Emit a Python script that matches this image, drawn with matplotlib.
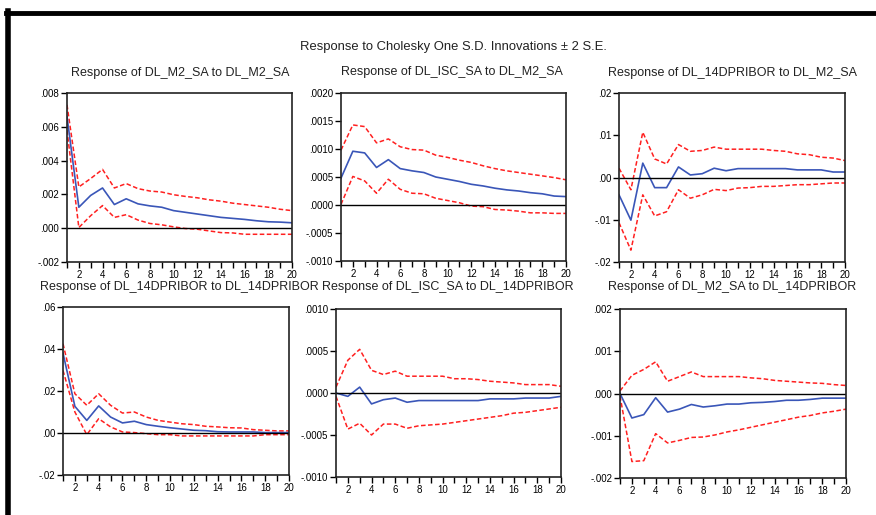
import matplotlib
matplotlib.use("Agg")
import matplotlib.pyplot as plt
from matplotlib.lines import Line2D
from matplotlib.ticker import FixedLocator, FuncFormatter

plt.rcParams['font.family'] = ['Liberation Sans', 'DejaVu Sans']

periods = list(range(1, 21))

# Panel 1: Response of DL_M2_SA to DL_M2_SA
m2_m2 = [0.0066, 0.00124, 0.00194, 0.00238, 0.0014, 0.00174, 0.00144, 0.00132, 0.00124, 0.00104,
         0.00094, 0.00084, 0.00074, 0.00064, 0.00058, 0.00052, 0.00044, 0.00038, 0.00036, 0.00032]
m2_m2_up = [0.0073, 0.00244, 0.00294, 0.00348, 0.00238, 0.00264, 0.00234, 0.0022, 0.00214, 0.00198,
            0.00188, 0.0018, 0.00168, 0.0016, 0.00148, 0.0014, 0.00132, 0.00124, 0.00112, 0.00104]
m2_m2_lo = [0.0058, 0.00004, 0.00074, 0.00134, 0.00064, 0.0008, 0.00048, 0.00028, 0.0002, 0.00008,
            -0.00002, -0.00006, -0.00016, -0.00026, -0.00028, -0.00036, -0.00036, -0.00036, -0.00036, -0.00036]

# Panel 2: Response of DL_ISC_SA to DL_M2_SA
isc_m2 = [0.00048, 0.00096, 0.00093, 0.00067, 0.00081, 0.00065, 0.00061, 0.00058, 0.0005, 0.00046,
          0.00042, 0.00037, 0.00034, 0.0003, 0.00027, 0.00025, 0.00022, 0.0002, 0.00016, 0.00015]
isc_m2_up = [0.00098, 0.00143, 0.0014, 0.00111, 0.00118, 0.00104, 0.00099, 0.00098, 0.00089, 0.00085,
             0.0008, 0.00076, 0.0007, 0.00065, 0.00061, 0.00058, 0.00055, 0.00052, 0.00049, 0.00045]
isc_m2_lo = [0.00001, 0.00051, 0.00043, 0.00021, 0.00046, 0.00028, 0.00021, 0.0002, 0.00012, 0.00008,
             0.00004, -0.00002, -0.00003, -0.00008, -0.00009, -0.00011, -0.00014, -0.00014, -0.00015, -0.00015]

# Panel 3: Response of DL_14DPRIBOR to DL_M2_SA
pr_m2 = [-0.0041, -0.0101, 0.0034, -0.0024, -0.0024, 0.0025, 0.0006, 0.0009, 0.0022, 0.0016,
         0.0021, 0.0021, 0.0021, 0.0021, 0.0021, 0.0018, 0.0018, 0.0018, 0.0013, 0.0013]
pr_m2_up = [0.0022, -0.0029, 0.0107, 0.0044, 0.0032, 0.0078, 0.0062, 0.0064, 0.0072, 0.0067,
            0.0067, 0.0067, 0.0067, 0.0064, 0.0062, 0.0056, 0.0054, 0.0048, 0.0046, 0.004]
pr_m2_lo = [-0.0107, -0.0172, -0.0041, -0.0091, -0.0081, -0.0029, -0.0049, -0.0041, -0.0028, -0.0031,
            -0.0025, -0.0024, -0.0021, -0.0021, -0.0019, -0.0017, -0.0017, -0.0015, -0.0013, -0.0013]

# Panel 4: Response of DL_14DPRIBOR to DL_14DPRIBOR
pr_pr = [0.038, 0.0127, 0.006, 0.0129, 0.0076, 0.0048, 0.0056, 0.004, 0.0032, 0.0025,
         0.0019, 0.0013, 0.0011, 0.0006, 0.0005, 0.0005, 0.0005, 0.0002, 0.0002, 0.0002]
pr_pr_up = [0.0425, 0.0187, 0.0132, 0.0187, 0.0132, 0.0095, 0.01, 0.0076, 0.006, 0.0052,
            0.0044, 0.004, 0.0032, 0.0029, 0.0025, 0.0024, 0.0016, 0.0013, 0.001, 0.001]
pr_pr_lo = [0.0298, 0.01, -0.0008, 0.0068, 0.0029, 0.0005, 0.0002, -0.0003, -0.0008, -0.0008,
            -0.0014, -0.0014, -0.0014, -0.0014, -0.0014, -0.0014, -0.0014, -0.0008, -0.0008, -0.0008]

# Panel 5: Response of DL_ISC_SA to DL_14DPRIBOR
isc_pr = [0.0, -0.00004, 0.00007, -0.00013, -0.00008, -0.00006, -0.00011, -0.00009, -0.00009, -0.00009,
          -0.00009, -0.00009, -0.00009, -0.00007, -0.00007, -0.00007, -0.00006, -0.00006, -0.00006, -0.00004]
isc_pr_up = [0.00007, 0.00039, 0.00052, 0.00027, 0.00022, 0.00026, 0.0002, 0.0002, 0.0002, 0.0002,
             0.00017, 0.00017, 0.00016, 0.00014, 0.00013, 0.00012, 0.0001, 0.0001, 0.0001, 0.00008]
isc_pr_lo = [-0.00004, -0.00043, -0.00036, -0.0005, -0.00037, -0.00037, -0.00042, -0.00039, -0.00038, -0.00037,
             -0.00035, -0.00033, -0.00031, -0.00029, -0.00027, -0.00024, -0.00023, -0.00021, -0.00019, -0.00017]

# Panel 6: Response of DL_M2_SA to DL_14DPRIBOR
m2_pr = [0.0, -0.00058, -0.0005, -0.0001, -0.00044, -0.00037, -0.00026, -0.00032, -0.00029, -0.00025,
         -0.00025, -0.00022, -0.00021, -0.00019, -0.00016, -0.00016, -0.00014, -0.00011, -0.00011, -0.00011]
m2_pr_up = [0.00006, 0.00043, 0.00057, 0.00075, 0.00029, 0.0004, 0.00051, 0.0004, 0.0004, 0.0004,
            0.0004, 0.00037, 0.00035, 0.00031, 0.00029, 0.00027, 0.00025, 0.00024, 0.00021, 0.00019]
m2_pr_lo = [-0.00006, -0.00161, -0.00159, -0.00095, -0.00117, -0.00111, -0.00104, -0.00103, -0.00098, -0.00091,
            -0.00086, -0.0008, -0.00074, -0.00068, -0.00062, -0.00056, -0.00052, -0.00046, -0.00042, -0.00037]

main_title = "Response to Cholesky One S.D. Innovations \u00b1 2 S.E."
titles = ["Response of DL_M2_SA to DL_M2_SA",
          "Response of DL_ISC_SA to DL_M2_SA",
          "Response of DL_14DPRIBOR to DL_M2_SA",
          "Response of DL_14DPRIBOR to DL_14DPRIBOR",
          "Response of DL_ISC_SA to DL_14DPRIBOR",
          "Response of DL_M2_SA to DL_14DPRIBOR"]
series = [(m2_m2, m2_m2_up, m2_m2_lo), (isc_m2, isc_m2_up, isc_m2_lo), (pr_m2, pr_m2_up, pr_m2_lo),
          (pr_pr, pr_pr_up, pr_pr_lo), (isc_pr, isc_pr_up, isc_pr_lo), (m2_pr, m2_pr_up, m2_pr_lo)]
yticks = [[-0.002, 0.0, 0.002, 0.004, 0.006, 0.008],
          [-0.001, -0.0005, 0.0, 0.0005, 0.001, 0.0015, 0.002],
          [-0.02, -0.01, 0.0, 0.01, 0.02],
          [-0.02, 0.0, 0.02, 0.04, 0.06],
          [-0.001, -0.0005, 0.0, 0.0005, 0.001],
          [-0.002, -0.001, 0.0, 0.001, 0.002]]
ydecimals = [3, 4, 2, 2, 4, 3]

W, H = 876, 515
# axes boxes in pixels: left, right, top, bottom
boxes = [(67, 292, 93, 262), (341, 566, 93, 261), (619, 845, 93, 262),
         (63, 289, 307, 475), (336, 561, 309, 477), (620, 846, 309, 478)]
title_y = [73, 72, 73, 287, 287, 287]
title_x = [180, 452, 732, 179, 448, 732]

fig = plt.figure(figsize=(W / 100, H / 100), dpi=100)
fig.patch.set_facecolor('white')

def fmt_factory(d):
    def f(v, pos):
        s = f"{v:.{d}f}"
        if abs(v) < 1e-12:
            s = f"{0:.{d}f}"
        if s.startswith("0."):
            s = s[1:]
        elif s.startswith("-0."):
            s = "-" + s[2:]
        return s
    return f

for i, (box, (mid, up, lo)) in enumerate(zip(boxes, series)):
    l, r, t, b = box
    ax = fig.add_axes([l / W, 1 - b / H, (r - l) / W, (b - t) / H])
    ax.plot(periods, up, color='#ff2020', lw=1.1, dashes=(3, 1.6))
    ax.plot(periods, lo, color='#ff2020', lw=1.1, dashes=(3, 1.6))
    ax.plot(periods, mid, color='#3a56b8', lw=1.2)
    ax.axhline(0, color='black', lw=1.0)
    ax.set_xlim(1, 20)
    ax.set_ylim(yticks[i][0], yticks[i][-1])
    ax.xaxis.set_major_locator(FixedLocator(periods))
    ax.xaxis.set_major_formatter(FuncFormatter(lambda v, p: str(int(round(v))) if int(round(v)) % 2 == 0 else ""))
    ax.yaxis.set_major_locator(FixedLocator(yticks[i]))
    ax.yaxis.set_major_formatter(FuncFormatter(fmt_factory(ydecimals[i])))
    ax.tick_params(axis='both', direction='out', length=4, width=1, labelsize=7, colors='black', pad=1.5)
    for sp in ax.spines.values():
        sp.set_linewidth(1.2)
        sp.set_color('#222222')
    fig.text(title_x[i] / W, 1 - title_y[i] / H, titles[i], ha='center', va='center', fontsize=9, color='#222222')

fig.text(453 / W, 1 - 47 / H, main_title, ha='center', va='center', fontsize=9.4, color='#222222')

# thick outer frame (partially cropped)
fig.add_artist(Line2D([6 / W, 1.0], [1 - 13 / H, 1 - 13 / H], color='black', lw=3.5, transform=fig.transFigure))
fig.add_artist(Line2D([8 / W, 8 / W], [1 - 11 / H, 0.0], color='black', lw=4, transform=fig.transFigure))

fig.savefig("out.png", dpi=100)
